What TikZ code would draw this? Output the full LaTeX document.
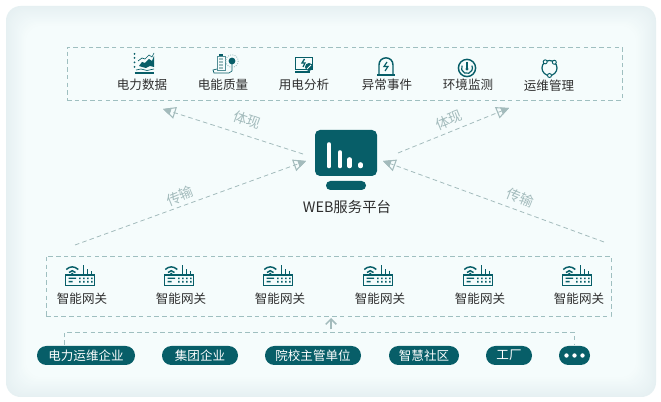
\documentclass[tikz,border=0pt]{standalone}
\usepackage{fontspec}
\setmainfont{Noto Sans CJK SC}
\usetikzlibrary{arrows.meta,positioning}
\definecolor{tealdark}{HTML}{075E68}
\definecolor{dashcol}{HTML}{9FBFC0}
\definecolor{arrowcol}{HTML}{A3BBBC}
\definecolor{panelcol}{HTML}{F5FCFC}
\definecolor{paneledge}{HTML}{E6F0F2}
\definecolor{textcol}{HTML}{2E2E2E}
\tikzset{
  dashbox/.style={draw=dashcol,dash pattern=on 3.4pt off 2.4pt,line width=0.6pt},
  flow/.style={draw=arrowcol,dash pattern=on 3.4pt off 2.4pt,line width=0.6pt,
    -{Triangle[open,length=9.5pt,width=9pt,line width=0.8pt,sep=-6pt]Triangle[length=6pt,width=5.6pt]}},
  flowlabel/.style={text=arrowcol,font=\fontsize{10.4}{10}\selectfont},
  itemlabel/.style={text=textcol,font=\fontsize{9.4}{10}\selectfont,inner sep=0pt},
  pilltext/.style={fill=tealdark,text=white,rounded corners=7pt,inner sep=0pt,
    minimum height=14.25pt,font=\fontsize{9.4}{10}\selectfont},
  icon/.style={draw=tealdark,line width=0.7pt},
  gateway/.pic={
    \draw[icon,line width=1pt] (-14.5,-1) rectangle (14.5,9.5);
    \fill[tealdark] (-11.5,1.6) rectangle (-4,3) (-11.5,5) rectangle (-7.5,6.4);
    \foreach \dx in {-1,3,7,11} {
      \fill[tealdark] (\dx,1.6) rectangle +(1.6,1.6) (\dx,5) rectangle +(1.6,1.6);
    }
    \draw[icon,line width=1.1pt] (3.3,-1) -- (3.3,-11) (7.3,-1) -- (7.3,-7) (11.3,-1) -- (11.3,-4.5);
    \draw[icon,line width=1.1pt] (-13.7,-6.5) .. controls (-10,-10) and (-5.5,-10) .. (-1.7,-6.5);
    \draw[icon,line width=1.1pt] (-11,-3.5) .. controls (-9,-5.8) and (-6.5,-5.8) .. (-4.5,-3.5);
    \fill[tealdark] (-7.7,-2) circle (1.4);
  },
  chartpic/.pic={
    \foreach \dy in {-10,-6,-1.5,3} { \fill[tealdark] (-9.5,\dy) circle (1); }
    \fill[tealdark] (-5,2) -- (-2,-2) -- (1,-1) -- (5,-5) -- (8,-3) -- (10,-8) -- (10,3) -- (6,2) -- (2,4) -- (-2,3) -- cycle;
    \draw[icon,line width=0.5pt] (-6,-3) -- (-2,-6) -- (1,-5) -- (5,-9) -- (8,-7) -- (10,-11);
    \draw[icon,line width=1.3pt] (-9.5,8.8) -- (10,8.8);
    \draw[icon,line width=0.5pt] (-8,6) -- (-3,5) -- (3,6.5) -- (10,5);
  },
  qualitypic/.pic={
    \draw[icon,draw=tealdark!70] (-7,-8) rectangle (1,6);
    \fill[tealdark] (-5,-9.5) rectangle (-1,-8);
    \foreach \dy in {-5.5,-2.5,0.5,3} { \fill[dashcol] (-5,\dy) rectangle (-1,\dy+1.6); }
    \draw[icon,line width=0.5pt] (-7,5) -- (-11,6) -- (-10,9) -- (5,9) -- (8,7) -- (8,-3);
    \fill[tealdark] (8,-3) circle (3.4);
    \draw[dashcol,densely dotted,line width=0.7pt] (8,-3) circle (6.2);
  },
  analysispic/.pic={
    \draw[icon] (-9,-8) rectangle (8,4);
    \draw[icon,line width=1.2pt] (-9,7) -- (6,7);
    \draw[icon,line width=1pt] (0.5,-6) -- (-2,-2) -- (1,-2) -- (-1,2);
    \fill[tealdark] (5,2) circle (4);
    \draw[panelcol,line width=0.6pt] (3,4) -- (7,0);
  },
  eventpic/.pic={
    \draw[icon,line width=1.1pt] (-7,7) -- (-7,-2) .. controls (-7,-11.5) and (7,-11.5) .. (7,-2) -- (7,7);
    \draw[icon,line width=1.5pt] (-9,8.2) -- (9,8.2);
    \draw[icon,line width=0.9pt] (1,-5) -- (-2,-0.5) -- (2,-0.5) -- (-1,4);
  },
  monitorpic/.pic={
    \draw[icon,line width=1.1pt] (0,0) circle (8.6);
    \draw[icon,line width=0.9pt] (-5,-2.4) arc[start angle=206,end angle=-26,radius=5.5];
    \draw[icon,line width=1.1pt] (0,-5.5) -- (0,1);
    \fill[tealdark] (0,1) circle (1.6);
  },
  managepic/.pic={
    \draw[icon,line width=0.9pt] (0,0) circle (7.5);
    \foreach \ang in {-125,-50,90} {
      \filldraw[draw=tealdark,fill=panelcol,line width=0.7pt] (\ang:7.5) circle (2);
    }
  }
}
\begin{document}
\begin{tikzpicture}[x=0.75pt,y=-0.75pt]
  \useasboundingbox (0,0) rectangle (661,402);
  \fill[white] (0,0) rectangle (661,402);
  % soft edge of the panel
  \foreach \i in {0,...,20} {
    \pgfmathsetmacro{\mixval}{5*\i}
    \fill[panelcol!\mixval!paneledge,rounded corners=11pt] (6+\i,6+\i) rectangle (656-\i,397-\i);
  }

  % upper box
  \node[dashbox,minimum width=416.25pt,minimum height=39.75pt,inner sep=0pt] (topbox) at (344.5,73.5) {};
  \node[dashbox,minimum width=423.75pt,minimum height=45pt,inner sep=0pt] (gatebox) at (328.5,286) {};

  \foreach \name/\txt/\px/\py in {a/电力数据/142/85,b/电能质量/223/85,c/用电分析/304/85,d/异常事件/387/85,e/环境监测/468/85,f/运维管理/549/86} {
    \node[itemlabel] (lab\name) at (\px,\py) {\txt};
  }
  \path (144,64) pic {chartpic};
  \path (224,64) pic {qualitypic};
  \path (304,65) pic {analysispic};
  \path (386,67) pic {eventpic};
  \path (467,68) pic {monitorpic};
  \path (549.5,68) pic {managepic};

  % platform
  \node[fill=tealdark,rounded corners=3.75pt,minimum width=46.5pt,minimum height=34.5pt,inner sep=0pt] (screen) at (346,153) {};
  \node[fill=tealdark,rounded corners=3.3pt,minimum width=30pt,minimum height=6.75pt,inner sep=0pt] (stand) at (346,185.5) {};
  \foreach \bx/\by in {329/144.5,340/152.5,349.5/159.5,360.5/164.5} {
    \draw[white,line width=3.5pt,line cap=round] (\bx,\by) -- (\bx,166);
  }
  \node[text=textcol,font=\fontsize{10.8}{10}\selectfont,inner sep=0pt] (platform) at (347,207) {WEB服务平台};

  % arrows
  \coordinate (ul) at (163,109);
  \coordinate (ur) at (509,108);
  \coordinate (ulfrom) at (303,154);
  \coordinate (urfrom) at (398,153);
  \coordinate (ll) at (75,245);
  \coordinate (lr) at (604,242);
  \coordinate (llto) at (306,161);
  \coordinate (lrto) at (383,161);
  \draw[flow] (ulfrom) -- (ul);
  \draw[flow] (urfrom) -- (ur);
  \draw[flow] (ll) -- (llto);
  \draw[flow] (lr) -- (lrto);
  \node[flowlabel,rotate=-20] (showl) at (247,120) {体现};
  \node[flowlabel,rotate=22] (showr) at (449,120) {体现};
  \node[flowlabel,rotate=22] (movel) at (180,196) {传输};
  \node[flowlabel,rotate=-22] (mover) at (520,198) {传输};

  % gateways
  \foreach \id/\px in {1/82,2/181,3/280,4/380,5/480,6/579} {
    \path (\px-2,276) pic {gateway};
    \node[itemlabel] (gate\id) at (\px,299) {智能网关};
  }

  % pills
  \node[pilltext,minimum width=73.5pt] (pa) at (86,355.5) {电力运维企业};
  \node[pilltext,minimum width=57pt] (pb) at (200,355.5) {集团企业};
  \node[pilltext,minimum width=72pt] (pc) at (313,355.5) {院校主管单位};
  \node[pilltext,minimum width=52.5pt] (pd) at (424,355.5) {智慧社区};
  \node[pilltext,minimum width=34.5pt] (pe) at (509,355.5) {工厂};
  \node[pilltext,minimum width=23.25pt] (pf) at (574.5,355.5) {};
  \foreach \dx in {-8,0,8} {
    \fill[white] (574.5+\dx,355.5) circle (2.2);
  }

  % bracket
  \coordinate (brl) at (64.5,345);
  \coordinate (brr) at (574.5,345);
  \draw[dashbox] (brl) -- (64.5,332.5) -- (574.5,332.5) -- (brr);
  \coordinate (upfrom) at (331,329.5);
  \coordinate (upto) at (331,318);
  \draw[arrowcol,line width=1.1pt,-{Straight Barb[length=4pt,width=8pt,line width=1.1pt]}] (upfrom) -- (upto);
\end{tikzpicture}
\end{document}
